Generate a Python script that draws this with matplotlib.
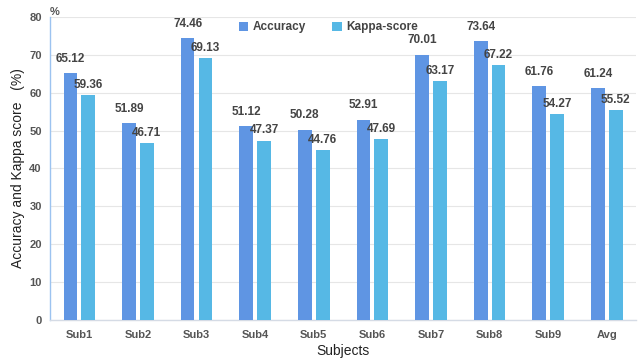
import matplotlib
matplotlib.use("Agg")
import matplotlib.pyplot as plt
import numpy as np

subjects = ["Sub1", "Sub2", "Sub3", "Sub4", "Sub5", "Sub6", "Sub7", "Sub8", "Sub9", "Avg"]
accuracy = [65.12, 51.89, 74.46, 51.12, 50.28, 52.91, 70.01, 73.64, 61.76, 61.24]
kappa = [59.36, 46.71, 69.13, 47.37, 44.76, 47.69, 63.17, 67.22, 54.27, 55.52]
yticks = [0, 10, 20, 30, 40, 50, 60, 70, 80]

plt.rcParams['font.family'] = ['Liberation Sans', 'DejaVu Sans']

fig = plt.figure(figsize=(6.42, 3.60), dpi=100)
ax = fig.add_axes([0.0779, 0.111, 0.9128, 0.842])

x = np.arange(len(subjects))
w = 0.235
off = 0.152
c_acc = "#5f95e3"
c_kap = "#56b8e5"

b1 = ax.bar(x - off, accuracy, w, color=c_acc, label="Accuracy", zorder=3)
b2 = ax.bar(x + off, kappa, w, color=c_kap, label="Kappa-score", zorder=3)

for rect, v in zip(b1, accuracy):
    ax.annotate(f"{v:.2f}", (rect.get_x() + rect.get_width() / 2, v),
                xytext=(0, 6), textcoords="offset points", ha="center", va="bottom",
                fontsize=8.5, fontweight="bold", color="#444444")
for rect, v in zip(b2, kappa):
    ax.annotate(f"{v:.2f}", (rect.get_x() + rect.get_width() / 2, v),
                xytext=(0, 3), textcoords="offset points", ha="center", va="bottom",
                fontsize=8.5, fontweight="bold", color="#444444")

ax.set_xlim(-0.5, len(subjects) - 0.5)
ax.set_ylim(0, 80)
ax.set_yticks(yticks)
ax.set_xticks(x)
ax.set_xticklabels(subjects)
ax.tick_params(axis="both", length=0, labelsize=8, labelcolor="#555555", pad=6)
ax.tick_params(axis="x", pad=7)
for lab in ax.get_xticklabels() + ax.get_yticklabels():
    lab.set_fontweight("bold")
ax.grid(axis="y", color="#e6e6e6", linewidth=0.8, zorder=0)

for s in ["top", "right"]:
    ax.spines[s].set_visible(False)
ax.spines["left"].set_color("#9cc3f0")
ax.spines["left"].set_linewidth(1.0)
ax.spines["bottom"].set_color("#d5dbe5")
ax.spines["bottom"].set_linewidth(1.0)

ax.set_xlabel("Subjects", fontsize=10, color="#222222", labelpad=3)
ax.set_ylabel("Accuracy and Kappa score   (%)", fontsize=10, color="#222222", labelpad=3)

ax.text(0.0, 1.0, "%", transform=ax.transAxes, ha="left", va="bottom",
        fontsize=8, fontweight="bold", color="#555555")

leg = ax.legend(loc="upper center", bbox_to_anchor=(0.475, 1.02), ncol=2, frameon=False,
                fontsize=8.5, handlelength=0.8, handleheight=0.8, handletextpad=0.4,
                columnspacing=2.2)
for t in leg.get_texts():
    t.set_color("#444444")
    t.set_fontweight("bold")

fig.savefig("out.png", dpi=100)
